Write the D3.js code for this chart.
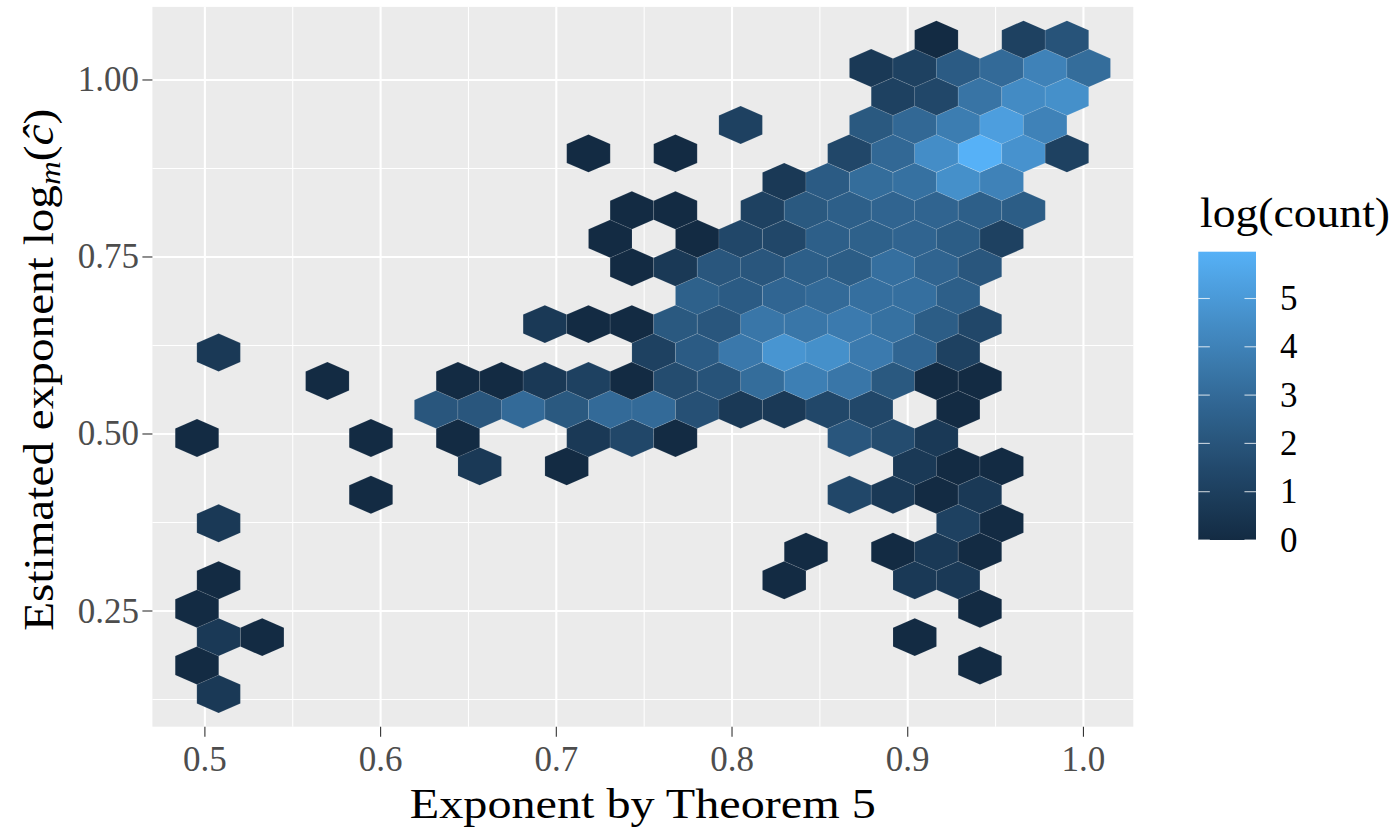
<!DOCTYPE html>
<html>
<head>
<meta charset="utf-8">
<script src="https://cdn.jsdelivr.net/npm/d3@7"></script>
<style>
  body { margin: 0; background: #ffffff; }
  text { font-family: "Liberation Serif", "Times New Roman", serif; }
</style>
</head>
<body>
<svg id="chart" width="1398" height="829"></svg>
<script>
// Hexagon centres (data units) and the number of points in each hexagon, listed row by row from the bottom.
const hexX = [
  0.5078,
  0.4955, 0.9411,
  0.5078, 0.5326, 0.9040,
  0.4955, 0.9411,
  0.5078, 0.8297, 0.9040, 0.9287,
  0.8421, 0.8916, 0.9163, 0.9411,
  0.5078, 0.9287, 0.9535,
  0.5945, 0.8668, 0.8916, 0.9163, 0.9411,
  0.6564, 0.7059, 0.9040, 0.9287, 0.9535,
  0.4955, 0.5945, 0.6440, 0.7183, 0.7430, 0.7678, 0.8668, 0.8916, 0.9163,
  0.6316, 0.6564, 0.6811, 0.7059, 0.7307, 0.7554, 0.7802, 0.8049, 0.8297, 0.8544, 0.8792, 0.9287,
  0.5697, 0.6440, 0.6688, 0.6935, 0.7183, 0.7430, 0.7678, 0.7926, 0.8173, 0.8421, 0.8668, 0.8916, 0.9163, 0.9411,
  0.5078, 0.7554, 0.7802, 0.8049, 0.8297, 0.8544, 0.8792, 0.9040, 0.9287,
  0.6935, 0.7183, 0.7430, 0.7678, 0.7926, 0.8173, 0.8421, 0.8668, 0.8916, 0.9163, 0.9411,
  0.7802, 0.8049, 0.8297, 0.8544, 0.8792, 0.9040, 0.9287,
  0.7430, 0.7678, 0.7926, 0.8173, 0.8421, 0.8668, 0.8916, 0.9163, 0.9411,
  0.7307, 0.7802, 0.8049, 0.8297, 0.8544, 0.8792, 0.9040, 0.9287, 0.9535,
  0.7430, 0.7678, 0.8173, 0.8421, 0.8668, 0.8916, 0.9163, 0.9411, 0.9659,
  0.8297, 0.8544, 0.8792, 0.9040, 0.9287, 0.9535,
  0.7183, 0.7678, 0.8668, 0.8916, 0.9163, 0.9411, 0.9659, 0.9906,
  0.8049, 0.8792, 0.9040, 0.9287, 0.9535, 0.9782,
  0.8916, 0.9163, 0.9411, 0.9659, 0.9906,
  0.8792, 0.9040, 0.9287, 0.9535, 0.9782, 1.0030,
  0.9163, 0.9659, 0.9906
];
const hexY = [
  0.1328,
  0.1730, 0.1730,
  0.2131, 0.2131, 0.2131,
  0.2533, 0.2533,
  0.2935, 0.2935, 0.2935, 0.2935,
  0.3337, 0.3337, 0.3337, 0.3337,
  0.3739, 0.3739, 0.3739,
  0.4141, 0.4141, 0.4141, 0.4141, 0.4141,
  0.4543, 0.4543, 0.4543, 0.4543, 0.4543,
  0.4944, 0.4944, 0.4944, 0.4944, 0.4944, 0.4944, 0.4944, 0.4944, 0.4944,
  0.5346, 0.5346, 0.5346, 0.5346, 0.5346, 0.5346, 0.5346, 0.5346, 0.5346, 0.5346, 0.5346, 0.5346,
  0.5748, 0.5748, 0.5748, 0.5748, 0.5748, 0.5748, 0.5748, 0.5748, 0.5748, 0.5748, 0.5748, 0.5748, 0.5748, 0.5748,
  0.6150, 0.6150, 0.6150, 0.6150, 0.6150, 0.6150, 0.6150, 0.6150, 0.6150,
  0.6552, 0.6552, 0.6552, 0.6552, 0.6552, 0.6552, 0.6552, 0.6552, 0.6552, 0.6552, 0.6552,
  0.6953, 0.6953, 0.6953, 0.6953, 0.6953, 0.6953, 0.6953,
  0.7355, 0.7355, 0.7355, 0.7355, 0.7355, 0.7355, 0.7355, 0.7355, 0.7355,
  0.7757, 0.7757, 0.7757, 0.7757, 0.7757, 0.7757, 0.7757, 0.7757, 0.7757,
  0.8159, 0.8159, 0.8159, 0.8159, 0.8159, 0.8159, 0.8159, 0.8159, 0.8159,
  0.8561, 0.8561, 0.8561, 0.8561, 0.8561, 0.8561,
  0.8963, 0.8963, 0.8963, 0.8963, 0.8963, 0.8963, 0.8963, 0.8963,
  0.9364, 0.9364, 0.9364, 0.9364, 0.9364, 0.9364,
  0.9766, 0.9766, 0.9766, 0.9766, 0.9766,
  1.0168, 1.0168, 1.0168, 1.0168, 1.0168, 1.0168,
  1.0570, 1.0570, 1.0570
];
const hexCount = [
  2,
  1, 1,
  2, 1, 1,
  1, 1,
  1, 1, 2, 2,
  1, 1, 2, 1,
  2, 3, 1,
  1, 4, 2, 1, 2,
  2, 1, 2, 1, 1,
  1, 1, 1, 2, 4, 1, 8, 5, 2,
  8, 8, 20, 9, 20, 20, 6, 2, 2, 4, 4, 1,
  1, 1, 1, 2, 3, 1, 5, 7, 22, 49, 33, 9, 1, 1,
  2, 3, 10, 37, 122, 99, 40, 16, 3,
  2, 1, 1, 9, 8, 33, 33, 40, 27, 11, 4,
  13, 10, 16, 20, 25, 25, 12,
  1, 2, 8, 8, 12, 11, 25, 15, 8,
  1, 1, 4, 4, 12, 13, 15, 11, 3,
  1, 1, 3, 9, 12, 15, 15, 12, 11,
  2, 10, 22, 27, 99, 55,
  1, 1, 4, 18, 90, 391, 110, 3,
  3, 9, 18, 45, 181, 55,
  3, 4, 30, 81, 99,
  2, 3, 10, 20, 55, 22,
  1, 3, 7
];

const xTicks = [0.5, 0.6, 0.7, 0.8, 0.9, 1.0];
const xTickLabels = ["0.5", "0.6", "0.7", "0.8", "0.9", "1.0"];
const xMinor = [0.55, 0.65, 0.75, 0.85, 0.95];
const yTicks = [0.25, 0.5, 0.75, 1.0];
const yTickLabels = ["0.25", "0.50", "0.75", "1.00"];
const yMinor = [0.125, 0.375, 0.625, 0.875];
const legendTicks = [0, 1, 2, 3, 4, 5];

// Hex bin geometry in data units
const binWidthX = 0.024758;   // horizontal width of a hexagon
const rowStep = 0.040184;     // vertical distance between hexagon rows

// Layout
const panel = { left: 152.4, right: 1133.3, top: 6.9, bottom: 726.7 };
const lowColor = "#132B43", highColor = "#56B1F7";

const svg = d3.select("#chart");
svg.append("rect").attr("width", 1398).attr("height", 829).attr("fill", "#ffffff");

// Scales with 5% expansion around the hexagon centres
function expanded(arr) {
  const e = d3.extent(arr);
  const pad = (e[1] - e[0]) * 0.05;
  return [e[0] - pad, e[1] + pad];
}
const x = d3.scaleLinear().domain(expanded(hexX)).range([panel.left, panel.right]);
const y = d3.scaleLinear().domain(expanded(hexY)).range([panel.bottom, panel.top]);

const logCount = hexCount.map(c => Math.log(c));
const maxLog = d3.max(logCount);
const color = d3.scaleLinear().domain([0, maxLog]).range([lowColor, highColor]).interpolate(d3.interpolateLab);

// Panel background and grid
svg.append("rect")
  .attr("x", panel.left).attr("y", panel.top)
  .attr("width", panel.right - panel.left).attr("height", panel.bottom - panel.top)
  .attr("fill", "#EBEBEB");

const grid = svg.append("g");
grid.selectAll("line.xminor").data(xMinor).join("line")
  .attr("x1", d => x(d)).attr("x2", d => x(d))
  .attr("y1", panel.top).attr("y2", panel.bottom)
  .attr("stroke", "#ffffff").attr("stroke-width", 1.05);
grid.selectAll("line.yminor").data(yMinor).join("line")
  .attr("y1", d => y(d)).attr("y2", d => y(d))
  .attr("x1", panel.left).attr("x2", panel.right)
  .attr("stroke", "#ffffff").attr("stroke-width", 1.05);
grid.selectAll("line.xmajor").data(xTicks).join("line")
  .attr("x1", d => x(d)).attr("x2", d => x(d))
  .attr("y1", panel.top).attr("y2", panel.bottom)
  .attr("stroke", "#ffffff").attr("stroke-width", 2.1);
grid.selectAll("line.ymajor").data(yTicks).join("line")
  .attr("y1", d => y(d)).attr("y2", d => y(d))
  .attr("x1", panel.left).attr("x2", panel.right)
  .attr("stroke", "#ffffff").attr("stroke-width", 2.1);

// Hexagons (pointy top)
const hw = binWidthX / 2;
const hr = rowStep * 2 / 3;
const corners = [[0, hr], [hw, hr / 2], [hw, -hr / 2], [0, -hr], [-hw, -hr / 2], [-hw, hr / 2]];
const cells = hexX.map((cx, i) => ({ cx, cy: hexY[i], v: logCount[i] }));
svg.append("g").selectAll("path").data(cells).join("path")
  .attr("d", d => "M" + corners.map(([dx, dy]) => x(d.cx + dx) + "," + y(d.cy + dy)).join("L") + "Z")
  .attr("fill", d => color(d.v))
  .attr("stroke", "rgba(255,255,255,0.16)")
  .attr("stroke-width", 0.6);

// Axes
const axisCol = "#333333", labCol = "#4D4D4D";
const xa = svg.append("g");
xa.selectAll("line").data(xTicks).join("line")
  .attr("x1", d => x(d)).attr("x2", d => x(d))
  .attr("y1", panel.bottom).attr("y2", panel.bottom + 10)
  .attr("stroke", axisCol).attr("stroke-width", 1.1);
xa.selectAll("text").data(xTicks).join("text")
  .attr("x", d => x(d)).attr("y", 771)
  .attr("text-anchor", "middle").attr("font-size", 35).attr("fill", labCol)
  .text((d, i) => xTickLabels[i]);

const ya = svg.append("g");
ya.selectAll("line").data(yTicks).join("line")
  .attr("y1", d => y(d)).attr("y2", d => y(d))
  .attr("x1", panel.left - 10).attr("x2", panel.left)
  .attr("stroke", axisCol).attr("stroke-width", 1.1);
ya.selectAll("text").data(yTicks).join("text")
  .attr("x", 139).attr("y", d => y(d) + 11.5)
  .attr("text-anchor", "end").attr("font-size", 35).attr("fill", labCol)
  .text((d, i) => yTickLabels[i]);

// Axis titles
svg.append("text")
  .attr("x", (panel.left + panel.right) / 2).attr("y", 818)
  .attr("text-anchor", "middle").attr("font-size", 43).attr("fill", "#000")
  .attr("textLength", 466).attr("lengthAdjust", "spacingAndGlyphs")
  .text("Exponent by Theorem 5");

const yt = svg.append("text")
  .attr("transform", `translate(53,${(panel.top + panel.bottom) / 2 + 3}) rotate(-90)`)
  .attr("text-anchor", "middle").attr("font-size", 43).attr("fill", "#000")
  .attr("textLength", 522).attr("lengthAdjust", "spacingAndGlyphs");
yt.append("tspan").text("Estimated exponent log");
yt.append("tspan").attr("font-style", "italic").attr("font-size", 30).attr("dy", 7).text("m");
yt.append("tspan").attr("dy", -7).text("(");
yt.append("tspan").attr("font-style", "italic").text("ĉ");
yt.append("tspan").text(")");

// Colour bar legend
const bar = { left: 1198.3, right: 1256, top: 251.7, bottom: 540 };
const ly = d3.scaleLinear().domain([0, maxLog]).range([bar.bottom, bar.top]);
const defs = svg.append("defs");
const grad = defs.append("linearGradient").attr("id", "cbar")
  .attr("x1", 0).attr("y1", 1).attr("x2", 0).attr("y2", 0);
d3.range(0, 21).forEach(i => {
  grad.append("stop").attr("offset", i / 20).attr("stop-color", color(maxLog * i / 20));
});
svg.append("rect")
  .attr("x", bar.left).attr("y", bar.top)
  .attr("width", bar.right - bar.left).attr("height", bar.bottom - bar.top)
  .attr("fill", "url(#cbar)");
const tickLen = (bar.right - bar.left) / 5;
const lg = svg.append("g");
lg.selectAll("line.l").data(legendTicks).join("line")
  .attr("x1", bar.left).attr("x2", bar.left + tickLen)
  .attr("y1", d => ly(d)).attr("y2", d => ly(d))
  .attr("stroke", "#ffffff").attr("stroke-opacity", 0.75).attr("stroke-width", 1.1);
lg.selectAll("line.r").data(legendTicks).join("line")
  .attr("x1", bar.right - tickLen).attr("x2", bar.right)
  .attr("y1", d => ly(d)).attr("y2", d => ly(d))
  .attr("stroke", "#ffffff").attr("stroke-opacity", 0.75).attr("stroke-width", 1.1);
lg.selectAll("text").data(legendTicks).join("text")
  .attr("x", 1280).attr("y", d => ly(d) + 11.5)
  .attr("font-size", 35).attr("fill", "#000")
  .text(d => d);
svg.append("text")
  .attr("x", 1200).attr("y", 227)
  .attr("font-size", 43).attr("fill", "#000")
  .attr("textLength", 190).attr("lengthAdjust", "spacingAndGlyphs")
  .text("log(count)");
</script>
</body>
</html>
